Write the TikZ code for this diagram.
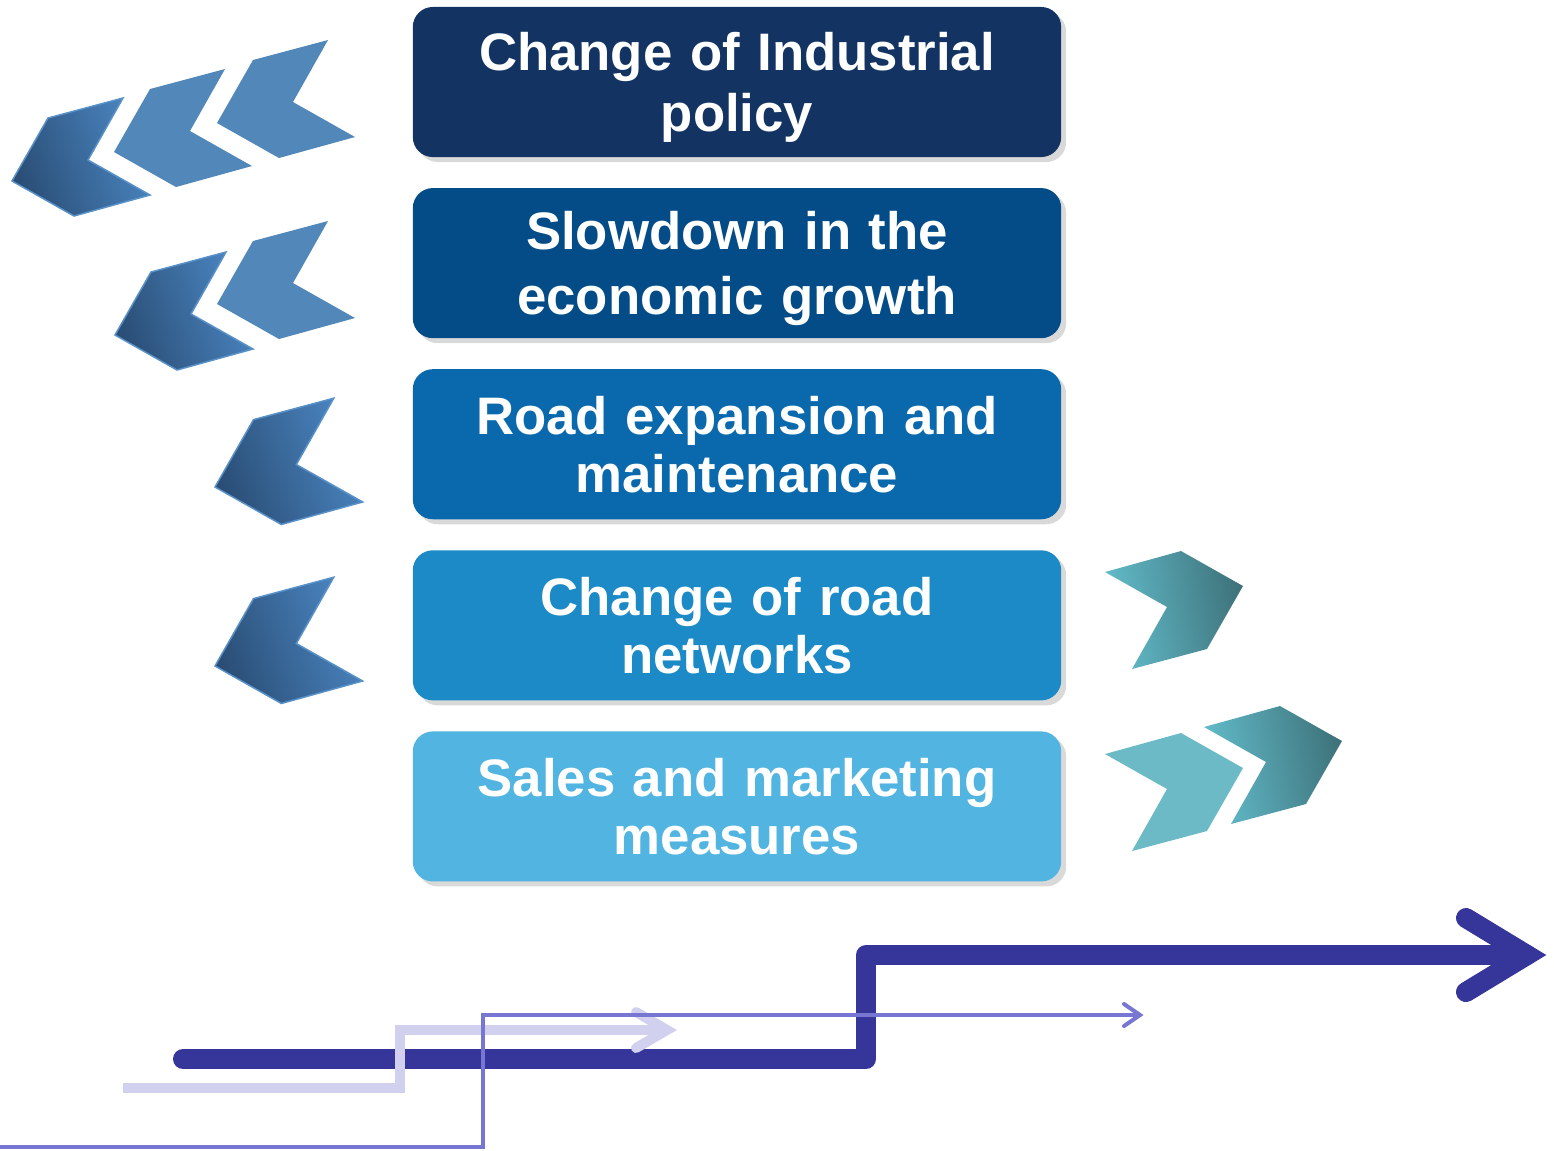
\documentclass[tikz,border=0pt]{standalone}
\usepackage{fontspec}
\setmainfont{Liberation Sans}
\usetikzlibrary{positioning,shadows}

\definecolor{boxone}{HTML}{133463}
\definecolor{boxtwo}{HTML}{034C87}
\definecolor{boxthree}{HTML}{0A69AD}
\definecolor{boxfour}{HTML}{1C8AC6}
\definecolor{boxfive}{HTML}{51B4E1}
\definecolor{chevflat}{HTML}{5287BA}
\definecolor{chevdark}{HTML}{2A4E76}
\definecolor{chevlight}{HTML}{4B86C2}
\definecolor{chevrim}{HTML}{5A92C8}
\definecolor{tealflat}{HTML}{6CBAC6}
\definecolor{teallight}{HTML}{63BDCC}
\definecolor{tealdark}{HTML}{3E737B}
\definecolor{stepdark}{HTML}{35359A}
\definecolor{steplight}{HTML}{D1D1EF}
\definecolor{stepmid}{HTML}{7777D3}

% chevron pointing left, tip at (#1,#2)
\newcommand{\leftchev}[4]{\path[#4, shift={(#1,#2)}, scale=#3]
  (0,0) -- (36,-63) -- (111,-83) -- (76,-21) -- (138,14) -- (62,35) -- cycle;}
% chevron pointing right, tip at (#1,#2)
\newcommand{\rightchev}[3]{\path[#3, shift={(#1,#2)}, rotate=180]
  (0,0) -- (36,-63) -- (111,-83) -- (76,-21) -- (138,14) -- (62,35) -- cycle;}

\begin{document}
\begin{tikzpicture}[x=0.01cm, y=-0.01cm, node distance=0.31cm,
    factor/.style={rectangle, rounded corners=0.2cm, minimum width=6.48cm,
      minimum height=1.5cm, outer sep=0pt, text width=6.1cm, align=center,
      text=white, text depth=16.5pt,
      font=\fontsize{15pt}{16.5pt}\selectfont\bfseries,
      drop shadow={shadow xshift=0.05cm, shadow yshift=-0.05cm, fill=black, opacity=0.15}},
    flatchev/.style={fill=chevflat},
    shadechev/.style={left color=chevdark, right color=chevlight, shading angle=110,
      draw=chevrim, line width=0.015cm},
    flatteal/.style={fill=tealflat},
    shadeteal/.style={left color=teallight, right color=tealdark, shading angle=100}]
\useasboundingbox (0,0) rectangle (1554,1150);

% factor boxes
\node[factor, fill=boxone, font=\fontsize{15pt}{17.4pt}\selectfont\bfseries,
  text depth=17.4pt] (policy) at (737,82) {Change of Industrial\\policy};
\node[factor, fill=boxtwo, font=\fontsize{15pt}{18.5pt}\selectfont\bfseries,
  text depth=18.5pt, below=of policy] (growth) {Slowdown in the\\economic growth};
\node[factor, fill=boxthree, below=of growth] (road) {Road expansion and\\maintenance};
\node[factor, fill=boxfour, below=of road] (network) {Change of road\\networks};
\node[factor, fill=boxfive, below=of network] (sales) {Sales and marketing\\measures};

% chevrons on the left
\leftchev{217}{123}{1}{flatchev}
\leftchev{114}{152}{1}{flatchev}
\leftchev{12}{181}{1}{shadechev}
\leftchev{217}{304}{1}{flatchev}
\leftchev{115}{335}{1}{shadechev}
\leftchev{215}{487}{1.07}{shadechev}
\leftchev{215}{666}{1.07}{shadechev}

% chevrons on the right
\rightchev{1243}{586}{shadeteal}
\rightchev{1243}{768}{flatteal}
\rightchev{1342}{741}{shadeteal}

% steps
\draw[stepdark, line width=0.2cm, line cap=round, line join=round]
  (183,1059) -- (866,1059) -- (866,955) -- (1527,955);
\draw[stepdark, line width=0.2cm, line cap=round, line join=miter]
  (1466,918) -- (1527,955) -- (1466,992);
\draw[steplight, line width=0.1cm] (123,1088) -- (400,1088) -- (400,1030) -- (667,1030);
\draw[steplight, line width=0.1cm, line cap=round, line join=miter]
  (636,1012) -- (667,1030) -- (636,1048);
\draw[stepmid, line width=0.04cm] (0,1147) -- (483,1147) -- (483,1015) -- (1137,1015);
\draw[stepmid, line width=0.04cm, line cap=round, line join=miter]
  (1124,1004) -- (1140,1015) -- (1124,1026);
\end{tikzpicture}
\end{document}
